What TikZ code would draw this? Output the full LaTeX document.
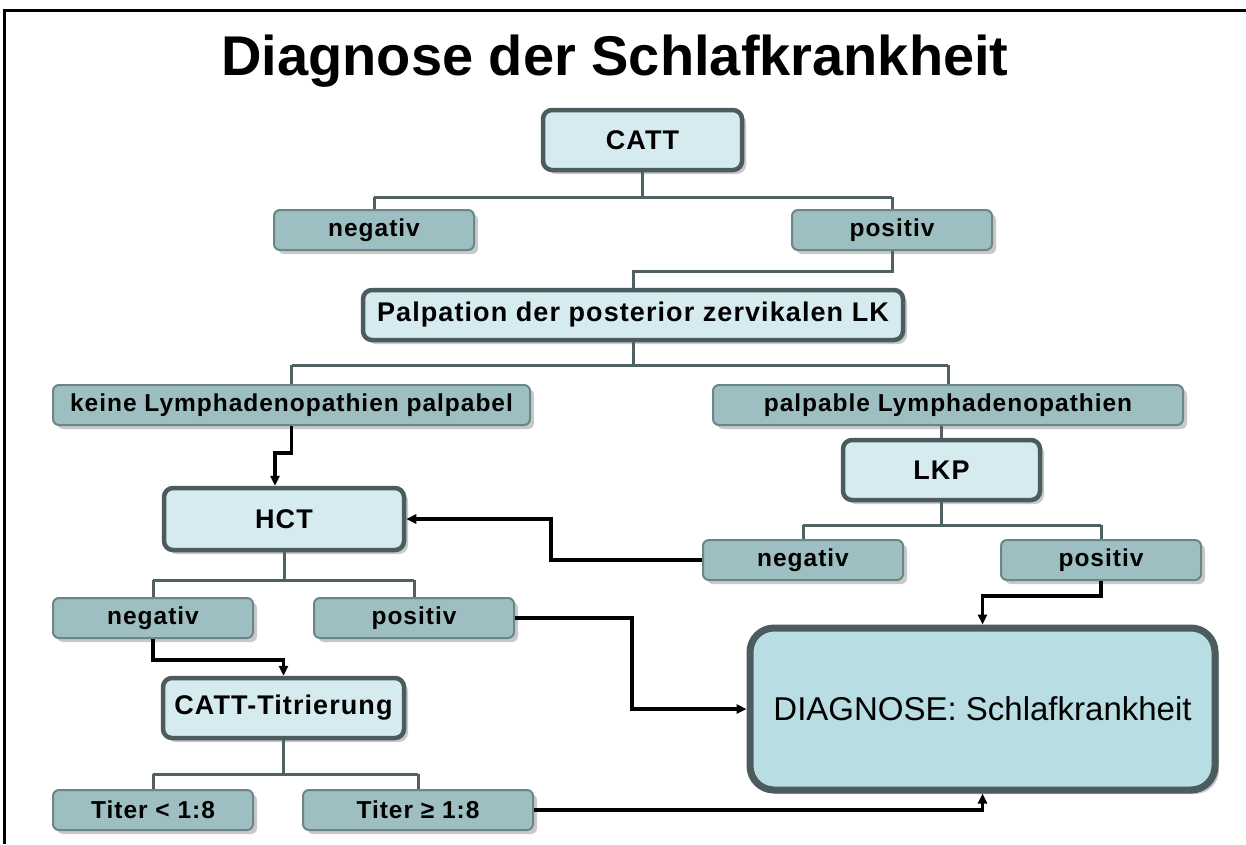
\documentclass[tikz,border=0pt]{standalone}
\usepackage{fontspec}
\setmainfont{Liberation Sans}
\newfontfamily\spacedfont[LetterSpace=4]{Liberation Sans}
\usetikzlibrary{arrows.meta,shadows}
\definecolor{bigfill}{HTML}{D6EBF0}
\definecolor{bigdraw}{HTML}{4B5B5E}
\definecolor{smallfill}{HTML}{9DBFC1}
\definecolor{smalldraw}{HTML}{6D8587}
\definecolor{diagfill}{HTML}{B8DDE2}
\definecolor{treecol}{HTML}{4F6163}
\tikzset{
  shad/.style={drop shadow={shadow xshift=4pt,shadow yshift=-4pt,opacity=0.35,fill=black!60}},
  bigbox/.style={shad,rectangle,rounded corners=9pt,fill=bigfill,draw=bigdraw,line width=4.5pt,
    font=\spacedfont\fontsize{27}{31}\selectfont\bfseries,inner sep=0pt},
  smallbox/.style={shad,rectangle,rounded corners=6pt,fill=smallfill,draw=smalldraw,line width=2pt,
    font=\spacedfont\fontsize{24.5}{28}\selectfont\bfseries,inner sep=0pt,minimum height=40pt},
  diagbox/.style={shad,rectangle,rounded corners=24pt,fill=diagfill,draw=bigdraw,line width=7pt,
    font=\fontsize{33}{38}\selectfont,inner sep=0pt},
  tree/.style={draw=treecol,line width=3pt},
  flow/.style={draw=black,line width=3.5pt,-{Triangle[length=10pt,width=9pt]}},
}
\begin{document}
\begin{tikzpicture}[x=1pt,y=-1pt]
\useasboundingbox (0,0) rectangle (1246,844);
\fill[white] (0,0) rectangle (1246,844);
\draw[line width=3pt] (4,844) -- (4,10) -- (1246,10);
\node[font=\fontsize{56}{60}\selectfont\bfseries] (title) at (615,61) {Diagnose der Schlafkrankheit};

\node[bigbox,minimum width=199pt,minimum height=60pt] (catt) at (642.5,140) {CATT};
\node[smallbox,minimum width=200pt] (cneg) at (374,230) {negativ};
\node[smallbox,minimum width=200pt] (cpos) at (892,230) {positiv};
\node[bigbox,minimum width=540pt,minimum height=50pt] (palp) at (633,315) {Palpation der posterior zervikalen LK};
\node[smallbox,minimum width=477pt] (keine) at (291.5,405) {keine Lymphadenopathien palpabel};
\node[smallbox,minimum width=470pt] (palpb) at (948,405) {palpable Lymphadenopathien};
\node[bigbox,minimum width=197pt,minimum height=60pt] (lkp) at (941.5,470) {LKP};
\node[smallbox,minimum width=200pt] (lneg) at (803,560) {negativ};
\node[smallbox,minimum width=200pt] (lpos) at (1101,560) {positiv};
\node[bigbox,minimum width=240pt,minimum height=62pt] (hct) at (284,519) {HCT};
\node[smallbox,minimum width=200pt] (hneg) at (153,618) {negativ};
\node[smallbox,minimum width=200pt] (hpos) at (414,618) {positiv};
\node[bigbox,minimum width=241pt,minimum height=60pt] (titr) at (283.5,708) {CATT-Titrierung};
\node[smallbox,minimum width=200pt] (tlt) at (153,810) {Titer < 1:8};
\node[smallbox,minimum width=230pt] (tge) at (418,810) {Titer ≥ 1:8};
\node[diagbox,minimum width=465pt,minimum height=162pt] (diag) at (982.5,709) {DIAGNOSE: Schlafkrankheit};

% tree connectors
\draw[tree] (catt.south) -- ++(0,25) coordinate (b1);
\draw[tree] (b1 -| cneg.north) -- (cneg.north);
\draw[tree] (b1 -| cpos.north) -- (cpos.north);
\draw[tree] (b1 -| cneg.north) -- (b1 -| cpos.north);
\draw[tree] (cpos.south) -- ++(0,20) -| (palp.north);
\draw[tree] (palp.south) -- ++(0,23) coordinate (b2);
\draw[tree] (b2 -| keine.north) -- (keine.north);
\draw[tree] (b2 -| palpb.north) -- (palpb.north);
\draw[tree] (b2 -| keine.north) -- (b2 -| palpb.north);
\draw[tree] (palpb.south -| lkp.north) -- (lkp.north);
\draw[tree] (lkp.south) -- ++(0,23) coordinate (b3);
\draw[tree] (b3 -| lneg.north) -- (lneg.north);
\draw[tree] (b3 -| lpos.north) -- (lpos.north);
\draw[tree] (b3 -| lneg.north) -- (b3 -| lpos.north);
\draw[tree] (hct.south) -- ++(0,28) coordinate (b4);
\draw[tree] (b4 -| hneg.north) -- (hneg.north);
\draw[tree] (b4 -| hpos.north) -- (hpos.north);
\draw[tree] (b4 -| hneg.north) -- (b4 -| hpos.north);
\draw[tree] (titr.south) -- ++(0,34) coordinate (b5);
\draw[tree] (b5 -| tlt.north) -- (tlt.north);
\draw[tree] (b5 -| tge.north) -- (tge.north);
\draw[tree] (b5 -| tlt.north) -- (b5 -| tge.north);

% flow arrows
\draw[flow] (keine.south) -- ++(0,27) -| ([xshift=-9pt]hct.north);
\draw[flow] (lneg.west) -- ++(-151,0) |- (hct.east);
\draw[flow] (hneg.south) -- ++(0,21) -| (titr.north);
\draw[flow] (hpos.east) -- ++(117,0) |- (diag.west);
\draw[flow] (lpos.south) -- ++(0,15) -| (diag.north);
\draw[flow] (tge.east) -| (diag.south);
\end{tikzpicture}
\end{document}
